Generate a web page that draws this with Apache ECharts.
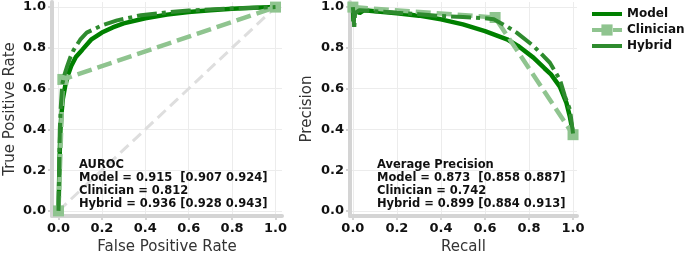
<!DOCTYPE html>
<html>
<head>
<meta charset="utf-8">
<script src="https://cdn.jsdelivr.net/npm/echarts@6/dist/echarts.min.js"></script>
<style>
  html, body { margin: 0; padding: 0; background: #fff; }
  #chart { width: 685px; height: 254px; }
</style>
</head>
<body>
<div id="chart"></div>
<script>
// tick labels shared by every axis
var tickValues = [0, 0.2, 0.4, 0.6, 0.8, 1.0];

// ROC curves (false positive rate -> true positive rate)
var rocModelFpr = [0, 0.003, 0.006, 0.009, 0.014, 0.02, 0.032, 0.045, 0.058, 0.08, 0.109, 0.15, 0.2, 0.25, 0.3, 0.4, 0.5, 0.6, 0.7, 0.8, 0.9, 1.0];
var rocModelTpr = [0, 0.15, 0.3, 0.4, 0.48, 0.55, 0.62, 0.67, 0.71, 0.755, 0.79, 0.84, 0.875, 0.9, 0.92, 0.945, 0.963, 0.976, 0.985, 0.992, 0.997, 1.0];
var rocClinFpr = [0, 0.02, 1.0];
var rocClinTpr = [0, 0.645, 1.0];
var rocHybridFpr = [0, 0.003, 0.006, 0.01, 0.017, 0.028, 0.04, 0.055, 0.07, 0.1, 0.13, 0.2, 0.27, 0.38, 0.5, 0.6, 0.8, 1.0];
var rocHybridTpr = [0, 0.2, 0.4, 0.5, 0.62, 0.67, 0.71, 0.755, 0.79, 0.84, 0.875, 0.91, 0.935, 0.96, 0.974, 0.983, 0.993, 1.0];
var chanceX = [0, 1];
var chanceY = [0, 1];

// precision-recall curves
var prModelRecall = [0, 0.003, 0.006, 0.01, 0.03, 0.05, 0.1, 0.2, 0.3, 0.4, 0.5, 0.6, 0.7, 0.75, 0.82, 0.87, 0.9, 0.94, 0.97, 0.985, 1.0];
var prModelPrec = [1.0, 0.93, 0.98, 0.99, 0.97, 0.985, 0.98, 0.97, 0.958, 0.94, 0.915, 0.882, 0.842, 0.81, 0.752, 0.70, 0.67, 0.61, 0.53, 0.465, 0.38];
var prClinRecall = [0, 0.646, 1.0];
var prClinPrec = [1.0, 0.949, 0.374];
var prHybridRecall = [0, 0.004, 0.006, 0.01, 0.03, 0.1, 0.2, 0.3, 0.4, 0.5, 0.6, 0.64, 0.7, 0.744, 0.82, 0.895, 0.94, 0.963, 0.986, 1.0];
var prHybridPrec = [1.0, 0.95, 0.89, 0.97, 0.985, 0.98, 0.972, 0.965, 0.956, 0.951, 0.945, 0.94, 0.905, 0.875, 0.81, 0.727, 0.645, 0.563, 0.497, 0.38];

var seriesNames = ["Model", "Clinician", "Hybrid"];
var rocText = ["AUROC", "Model = 0.915  [0.907 0.924]", "Clinician = 0.812", "Hybrid = 0.936 [0.928 0.943]"];
var prText = ["Average Precision", "Model = 0.873  [0.858 0.887]", "Clinician = 0.742", "Hybrid = 0.899 [0.884 0.913]"];

var modelColor = "#008000";
var clinColor = "#8fc48f";
var hybridColor = "#2e8b2e";

function zip(xs, ys) {
  var res = [];
  for (var i = 0; i < xs.length; i++) {
    res.push([xs[i], ys[i]]);
  }
  return res;
}

function makeAxis(gridIndex, min, max, name, nameGap) {
  return {
    type: "value",
    gridIndex: gridIndex,
    min: min,
    max: max,
    name: name,
    nameLocation: "middle",
    nameGap: nameGap,
    nameTextStyle: { fontFamily: "DejaVu Sans", fontSize: 15, color: "#333" },
    axisLine: { show: true, onZero: false, lineStyle: { color: "#d4d4d4", width: 4 } },
    axisTick: { show: true, customValues: tickValues, length: 4, lineStyle: { color: "#d4d4d4", width: 2 } },
    axisLabel: {
      customValues: tickValues,
      formatter: function (v) { return v.toFixed(1); },
      fontFamily: "DejaVu Sans",
      fontWeight: "bold",
      fontSize: 13,
      color: "#111",
      margin: 6
    },
    splitLine: { show: true, lineStyle: { color: "#ececec", width: 1 } }
  };
}

function curveSeries(name, data, idx, kind) {
  var s = {
    name: name,
    type: "line",
    xAxisIndex: idx,
    yAxisIndex: idx,
    data: data,
    symbol: "none",
    silent: true,
    animation: false
  };
  if (kind === "model") {
    s.lineStyle = { color: modelColor, width: 4.5 };
    s.itemStyle = { color: modelColor };
    s.z = 3;
  } else if (kind === "clin") {
    s.symbol = "rect";
    s.symbolSize = 11;
    s.showSymbol = true;
    s.lineStyle = { color: clinColor, width: 4.5, type: [15, 6] };
    s.itemStyle = { color: clinColor };
    s.z = 4;
  } else {
    s.lineStyle = { color: hybridColor, width: 4, type: [20, 5, 4, 5] };
    s.itemStyle = { color: hybridColor };
    s.z = 5;
  }
  return s;
}

function textBlock(left, lines) {
  return {
    type: "text",
    left: left,
    top: 159,
    z: 10,
    style: {
      text: lines.join("\n"),
      font: "bold 11.5px 'DejaVu Sans'",
      lineHeight: 13,
      fill: "#111"
    }
  };
}

var chart = echarts.init(document.getElementById("chart"));
var option = {
  animation: false,
  backgroundColor: "#fff",
  grid: [
    { left: 52, top: 2, width: 230, height: 214, containLabel: false, outerBoundsMode: "none" },
    { left: 350, top: 2, width: 227, height: 214, containLabel: false, outerBoundsMode: "none" }
  ],
  xAxis: [
    makeAxis(0, -0.03, 1.03, "False Positive Rate", 21),
    makeAxis(1, -0.013, 1.018, "Recall", 21)
  ],
  yAxis: [
    makeAxis(0, -0.025, 1.025, "True Positive Rate", 34),
    makeAxis(1, -0.025, 1.025, "Precision", 35)
  ],
  legend: {
    left: 585,
    top: 3,
    orient: "vertical",
    itemWidth: 30,
    itemHeight: 14,
    itemGap: 4,
    data: [
      { name: "Model", itemStyle: { opacity: 0 }, lineStyle: { width: 4 } },
      { name: "Clinician", lineStyle: { width: 4 } },
      { name: "Hybrid", itemStyle: { opacity: 0 }, lineStyle: { type: "solid", width: 4 } }
    ],
    textStyle: { fontFamily: "DejaVu Sans", fontWeight: "bold", fontSize: 12, color: "#111" }
  },
  graphic: [textBlock(79, rocText), textBlock(377, prText)],
  series: [
    {
      name: "chance",
      type: "line",
      xAxisIndex: 0,
      yAxisIndex: 0,
      data: zip(chanceX, chanceY),
      symbol: "none",
      silent: true,
      z: 1,
      lineStyle: { color: "#dedede", width: 3, type: [11, 6] }
    },
    curveSeries(seriesNames[0], zip(rocModelFpr, rocModelTpr), 0, "model"),
    curveSeries(seriesNames[1], zip(rocClinFpr, rocClinTpr), 0, "clin"),
    curveSeries(seriesNames[2], zip(rocHybridFpr, rocHybridTpr), 0, "hybrid"),
    curveSeries(seriesNames[0], zip(prModelRecall, prModelPrec), 1, "model"),
    curveSeries(seriesNames[1], zip(prClinRecall, prClinPrec), 1, "clin"),
    curveSeries(seriesNames[2], zip(prHybridRecall, prHybridPrec), 1, "hybrid")
  ]
};
chart.setOption(option);
</script>
</body>
</html>
